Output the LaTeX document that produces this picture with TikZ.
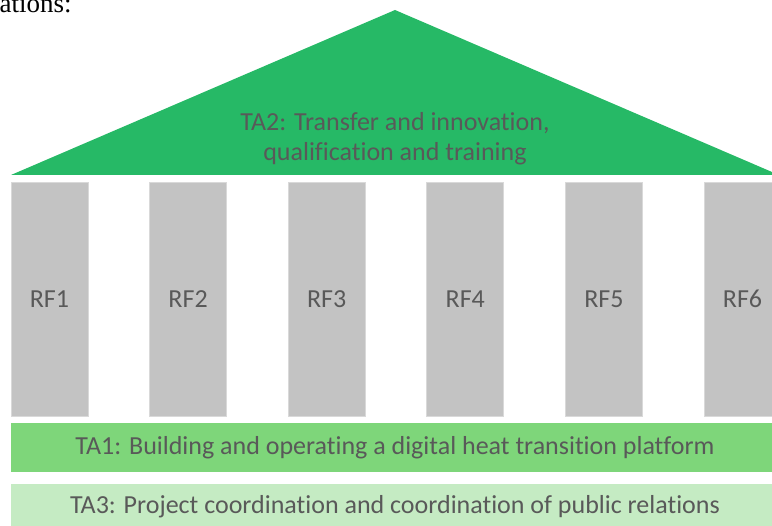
\documentclass[tikz,border=0pt]{standalone}
\usepackage{fontspec}
\setmainfont{Carlito}[Ligatures=NoCommon]
\newfontfamily\bodyserif{Liberation Serif}
\usetikzlibrary{positioning}

\definecolor{roofgreen}{RGB}{38,185,102}
\definecolor{midgreen}{RGB}{126,214,122}
\definecolor{palegreen}{RGB}{197,235,195}
\definecolor{pillargray}{RGB}{195,195,195}
\definecolor{pillaredge}{RGB}{217,217,217}
\definecolor{labelgray}{RGB}{89,89,89}

\begin{document}
\begin{tikzpicture}[x=1pt, y=-1pt, node distance=61.6pt]
        \tikzstyle{label}=[text=labelgray, font=\fontsize{26}{30}\selectfont]
        \tikzstyle{pillar}=[rectangle, draw=pillaredge, fill=pillargray, line width=0.8pt, minimum width=77pt, minimum height=234pt, inner sep=0pt, outer sep=0pt, label]
        \tikzstyle{bar}=[rectangle, minimum width=768pt, inner sep=0pt, outer sep=0pt, label]
        \clip (0,0) rectangle (772,526);

        % Text line above
        \node (prev) [anchor=base west, inner sep=0pt, font=\bodyserif\fontsize{27}{30}\selectfont] at (-0.5,12.5) {ations:};

        % Roof
        \coordinate (eaveL) at (11,175);
        \coordinate (ridge) at (395,10);
        \coordinate (eaveR) at (779,175);
        \fill[roofgreen] (eaveL) -- (ridge) -- (eaveR) -- cycle;
        \node (ta2) [label, align=center] at (395,139) {TA2: Transfer and innovation,\\qualification and training};

        % Pillars
        \node (rf1) [pillar] at (49.5,299) {RF1};
        \node (rf2) [pillar, right = of rf1] {RF2};
        \node (rf3) [pillar, right = of rf2] {RF3};
        \node (rf4) [pillar, right = of rf3] {RF4};
        \node (rf5) [pillar, right = of rf4] {RF5};
        \node (rf6) [pillar, right = of rf5] {RF6};

        % Foundation
        \node (ta1) [bar, fill=midgreen, minimum height=49pt] at (395,447.5) {TA1: Building and operating a digital heat transition platform};
        \node (ta3) [bar, fill=palegreen, minimum height=44pt] at (395,506.5) {TA3: Project coordination and coordination of public relations};
\end{tikzpicture}
\end{document}
